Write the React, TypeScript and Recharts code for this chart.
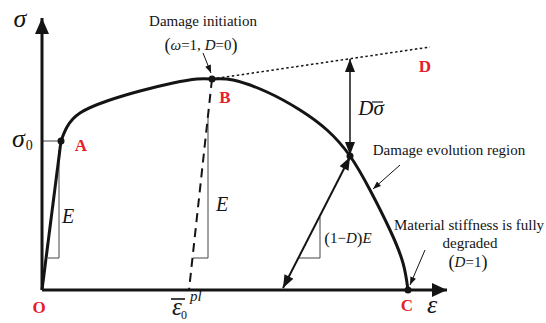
import React from 'react';
import { ComposedChart, Line, XAxis, YAxis, ReferenceDot } from 'recharts';

type P = { e: number; s: number };

// ---- schematic data (strain e, stress s; arbitrary units) ----
const strainAxis: P[] = [{ e: 0, s: 0 }, { e: 405, s: 0 }];
const stressAxis: P[] = [{ e: 0, s: 0 }, { e: 0, s: 272 }];
const elasticBranch: P[] = [{ e: 0, s: 0 }, { e: 19, s: 149 }];
const hardeningBranch: P[] = [
  { e: 19, s: 149 }, { e: 25, s: 163 }, { e: 38, s: 177 }, { e: 65, s: 189 },
  { e: 98, s: 199 }, { e: 131, s: 207 }, { e: 155, s: 211 }, { e: 170, s: 211 },
];
const softeningBranch: P[] = [
  { e: 170, s: 211 }, { e: 191, s: 210 }, { e: 225, s: 198 }, { e: 258, s: 180 },
  { e: 285, s: 160 }, { e: 308, s: 134 }, { e: 328, s: 100 }, { e: 348, s: 60 },
  { e: 361, s: 27 }, { e: 366, s: 0 },
];
const undamagedExtension: P[] = [{ e: 170, s: 211 }, { e: 388, s: 243 }];
const elasticUnloading: P[] = [{ e: 170, s: 211 }, { e: 147, s: 0 }];
const damagedUnloading: P[] = [{ e: 241, s: 2 }, { e: 308, s: 133 }];
const damageGap: P[] = [{ e: 308, s: 231 }, { e: 308, s: 135 }];
const yieldLevel: P[] = [{ e: 0, s: 149 }, { e: 19, s: 149 }];
const slopeTriangle1: P[] = [{ e: 17, s: 140 }, { e: 17, s: 32 }, { e: 6, s: 32 }];
const slopeTriangle2: P[] = [{ e: 166, s: 172 }, { e: 166, s: 32 }, { e: 151, s: 32 }];
const slopeTriangle3: P[] = [{ e: 278, s: 73 }, { e: 278, s: 32 }, { e: 257, s: 32 }];
const initiationPointer: P[] = [{ e: 161, s: 237 }, { e: 169, s: 217 }];
const evolutionPointer: P[] = [{ e: 358, s: 125 }, { e: 331, s: 101 }];
const degradedPointer: P[] = [{ e: 383, s: 40 }, { e: 368, s: 5 }];
const keyPoints: P[] = [{ e: 19, s: 149 }, { e: 170, s: 211 }, { e: 308, s: 134 }, { e: 366, s: 0 }];

// label anchors
const labelAnchors: { id: string; e: number; s: number }[] = [
  { id: 'sigma', e: -22, s: 272 },
  { id: 'sigma0', e: -30, s: 143 },
  { id: 'A', e: 39, s: 145 },
  { id: 'B', e: 183, s: 193 },
  { id: 'D', e: 383, s: 224 },
  { id: 'O', e: -3, s: -17 },
  { id: 'C', e: 365, s: -15 },
  { id: 'eps', e: 390, s: -14 },
  { id: 'E1', e: 26, s: 74 },
  { id: 'E2', e: 180, s: 86 },
  { id: 'Dsig', e: 329, s: 182 },
  { id: 'oneMinusD', e: 306, s: 52 },
  { id: 'init', e: 161, s: 269 },
  { id: 'omega', e: 159, s: 245 },
  { id: 'evolution', e: 407, s: 140 },
  { id: 'material', e: 427, s: 65 },
  { id: 'degraded', e: 428, s: 47 },
  { id: 'D1', e: 426, s: 28 },
  { id: 'epsPl', e: 135, s: -17 },
];

const SERIF = "'Liberation Serif', 'Times New Roman', serif";
const RED = '#e5202b';
const INK = '#141414';

const arrowDot = (data: P[], which: 'end' | 'both', len: number, half: number) => (props: any) => {
  const { cx, cy, index, points } = props;
  const key = `ad-${index}`;
  const n = data.length;
  let j = -1;
  if (index === n - 1) j = n - 2;
  else if (index === 0 && which === 'both') j = 1;
  if (j < 0 || cx == null) return <g key={key} />;
  let fx: number, fy: number;
  if (points && points[j]) {
    fx = points[j].x; fy = points[j].y;
  } else {
    fx = cx - (data[index].e - data[j].e);
    fy = cy + (data[index].s - data[j].s);
  }
  const dx = cx - fx, dy = cy - fy;
  const L = Math.hypot(dx, dy) || 1;
  const ux = dx / L, uy = dy / L;
  const bx = cx - ux * len, by = cy - uy * len;
  const px = -uy * half, py = ux * half;
  return (
    <polygon key={key} points={`${cx},${cy} ${bx + px},${by + py} ${bx - px},${by - py}`} fill={INK} />
  );
};

const renderLabel = (id: string, cx: number, cy: number) => {
  const base = { fontFamily: SERIF, fill: INK } as any;
  const red = { fontFamily: SERIF, fill: RED, fontWeight: 'bold', fontSize: 17, textAnchor: 'middle', dominantBaseline: 'central' } as any;
  switch (id) {
    case 'sigma':
      return <text x={cx} y={cy} {...base} fontSize={26} fontStyle="italic" textAnchor="middle" dominantBaseline="central">σ</text>;
    case 'sigma0':
      return (
        <text x={cx} y={cy} {...base}>
          <tspan fontSize={26} fontStyle="italic">σ</tspan>
          <tspan fontSize={14} dx={1} dy={3}>0</tspan>
        </text>
      );
    case 'A': case 'B': case 'D': case 'O': case 'C':
      return <text x={cx} y={cy} {...red}>{id}</text>;
    case 'eps':
      return <text x={cx} y={cy} {...base} fontSize={26} fontStyle="italic" textAnchor="middle" dominantBaseline="central">ε</text>;
    case 'E1': case 'E2':
      return <text x={cx} y={cy} {...base} fontSize={20} fontStyle="italic" textAnchor="middle" dominantBaseline="central">E</text>;
    case 'Dsig':
      return (
        <g>
          <text x={cx} y={cy} {...base} fontSize={21} fontStyle="italic" textAnchor="middle" dominantBaseline="central">Dσ</text>
          <line x1={cx + 1} x2={cx + 12} y1={cy - 6} y2={cy - 6} stroke={INK} strokeWidth={1.2} />
        </g>
      );
    case 'oneMinusD':
      return (
        <text x={cx} y={cy} {...base} fontSize={15} textAnchor="middle" dominantBaseline="central">
          <tspan fontSize={17}>(</tspan>1−<tspan fontStyle="italic">D</tspan><tspan fontSize={17}>)</tspan><tspan fontStyle="italic">E</tspan>
        </text>
      );
    case 'init':
      return <text x={cx} y={cy} {...base} fontSize={15} textAnchor="middle" dominantBaseline="central">Damage initiation</text>;
    case 'omega':
      return (
        <text x={cx} y={cy} {...base} fontSize={15} textAnchor="middle" dominantBaseline="central">
          <tspan fontSize={18}>(</tspan><tspan fontStyle="italic">ω</tspan>=1, <tspan fontStyle="italic">D</tspan>=0<tspan fontSize={18}>)</tspan>
        </text>
      );
    case 'evolution':
      return <text x={cx} y={cy} {...base} fontSize={15} textAnchor="middle" dominantBaseline="central">Damage evolution region</text>;
    case 'material':
      return <text x={cx} y={cy} {...base} fontSize={15} textAnchor="middle" dominantBaseline="central">Material stiffness is fully</text>;
    case 'degraded':
      return <text x={cx} y={cy} {...base} fontSize={15} textAnchor="middle" dominantBaseline="central">degraded</text>;
    case 'D1':
      return (
        <text x={cx} y={cy} {...base} fontSize={15} textAnchor="middle" dominantBaseline="central">
          <tspan fontSize={18}>(</tspan><tspan fontStyle="italic">D</tspan>=1<tspan fontSize={18}>)</tspan>
        </text>
      );
    case 'epsPl':
      return (
        <g>
          <text x={cx} y={cy + 8} {...base} fontSize={25} fontStyle="italic" textAnchor="middle">ε</text>
          <line x1={cx - 6} x2={cx + 8} y1={cy - 8} y2={cy - 8} stroke={INK} strokeWidth={1.6} />
          <text x={cx + 4} y={cy + 12} {...base} fontSize={12}>0</text>
          <text x={cx + 13} y={cy - 6} {...base} fontSize={15} fontStyle="italic">pl</text>
        </g>
      );
    default:
      return <g />;
  }
};

const common = {
  dataKey: 's',
  isAnimationActive: false,
  activeDot: false,
  legendType: 'none',
  type: 'linear',
} as any;

export default function App() {
  return (
    <div style={{ position: 'absolute', left: 0, top: 0, background: '#fff' }}>
      <ComposedChart width={546} height={323} margin={{ top: 0, right: 0, bottom: 0, left: 0 }}>
        <XAxis type="number" dataKey="e" domain={[-42, 504]} allowDataOverflow hide />
        <YAxis type="number" dataKey="s" domain={[-33, 290]} allowDataOverflow hide />

        <Line {...common} data={yieldLevel} stroke="#444" strokeWidth={1} dot={false} />
        <Line {...common} data={slopeTriangle1} stroke="#444" strokeWidth={1} dot={false} />
        <Line {...common} data={slopeTriangle2} stroke="#444" strokeWidth={1} dot={false} />
        <Line {...common} data={slopeTriangle3} stroke="#444" strokeWidth={1} dot={false} />
        <Line {...common} data={undamagedExtension} stroke={INK} strokeWidth={1.5} strokeDasharray="2.5 2.5" dot={false} />
        <Line {...common} data={elasticUnloading} stroke={INK} strokeWidth={2} strokeDasharray="9 6" dot={false} />

        <Line {...common} data={strainAxis} stroke={INK} strokeWidth={3} dot={arrowDot(strainAxis, 'end', 15, 7)} />
        <Line {...common} data={stressAxis} stroke={INK} strokeWidth={3} dot={arrowDot(stressAxis, 'end', 16, 7)} />
        <Line {...common} data={elasticBranch} stroke={INK} strokeWidth={3} dot={false} />
        <Line {...common} type="natural" data={hardeningBranch} stroke={INK} strokeWidth={3} dot={false} />
        <Line {...common} type="natural" data={softeningBranch} stroke={INK} strokeWidth={3} dot={false} />

        <Line {...common} data={damageGap} stroke={INK} strokeWidth={1.5} dot={arrowDot(damageGap, 'both', 13, 5)} />
        <Line {...common} data={damagedUnloading} stroke={INK} strokeWidth={2} dot={arrowDot(damagedUnloading, 'both', 13, 5)} />
        <Line {...common} data={initiationPointer} stroke={INK} strokeWidth={1} dot={arrowDot(initiationPointer, 'end', 8, 3)} />
        <Line {...common} data={evolutionPointer} stroke={INK} strokeWidth={1} dot={arrowDot(evolutionPointer, 'end', 8, 3)} />
        <Line {...common} data={degradedPointer} stroke={INK} strokeWidth={1} dot={arrowDot(degradedPointer, 'end', 8, 3)} />

        {keyPoints.map((p, i) => (
          <ReferenceDot key={`kp-${i}`} x={p.e} y={p.s} r={3.5} fill={INK} stroke="none" ifOverflow="visible" />
        ))}
        {labelAnchors.map((l) => (
          <ReferenceDot
            key={l.id}
            x={l.e}
            y={l.s}
            r={1}
            ifOverflow="visible"
            shape={(p: any) => renderLabel(l.id, p.cx, p.cy)}
          />
        ))}
      </ComposedChart>
    </div>
  );
}
